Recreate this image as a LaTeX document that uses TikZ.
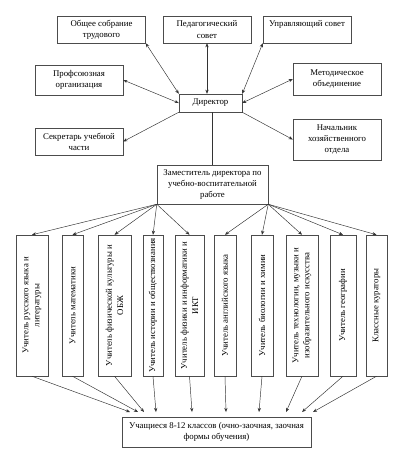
\documentclass[tikz,border=0pt]{standalone}
\usepackage{fontspec}
\setmainfont{Liberation Serif}
\usetikzlibrary{arrows.meta}
\begin{document}
\begin{tikzpicture}[x=.03cm, y=-.03cm, >={Stealth[length=3.5pt,width=2.8pt]}, font=\fontsize{7.5}{9.5}\selectfont,
    box/.style={draw=black!70, fill=white, align=center, inner sep=1pt},
    tbox/.style={box, rotate=90, minimum width=4.23cm},
    link/.style={draw=black!80, thin}]
\useasboundingbox (0,0) rectangle (412,465);
    \begin{scope}[every node/.append style={box, minimum width=2.64cm}]
\node[minimum height=.81cm] (sobr) at (101.5,29.5) {Общее собрание\\трудового};
\node[minimum height=.81cm] (ped) at (207,29.5) {Педагогический\\совет};
\node[minimum height=.81cm] (upr) at (307,29.5) {Управляющий совет\\\mbox{}};
\node[minimum height=.9cm] (prof) at (79,80) {Профсоюзная\\организация};
\node[minimum height=.96cm] (met) at (337,79) {Методическое\\объединение};
\node[minimum height=.81cm] (sek) at (79,141.5) {Секретарь учебной\\части};
\node[minimum height=1.23cm] (nach) at (337,139.5) {Начальник\\хозяйственного\\отдела};
\end{scope}
\node[box, minimum width=1.89cm, minimum height=.54cm] (dir) at (210.5,103) {Директор};
\node[box, minimum width=3.33cm, minimum height=1.17cm] (zam) at (212.5,184.5) {Заместитель директора по\\учебно-воспитательной\\работе};

\draw[link,<->](sobr.south east)--(dir.north west);
\draw[link,<->](ped.south)--(ped.south |- dir.north);
\draw[link,<->](upr.south west)--(dir.north east);
\draw[link,<->](prof.east)--(dir.west);
\draw[link,<->](met.west)--(dir.east);
\draw[link,->](dir.south west)--(sek.east);
\draw[link,->](dir.south east)--(nach.west);
\draw[link](zam.north |- dir.south)--(zam.north);

% teachers
\node[tbox, minimum height=.96cm] (t1) at (32,305.5) {Учитель русского языка и\\литературы};
\node[tbox, minimum height=.63cm] (t2) at (72.5,305.5) {Учитель математики};
\node[tbox, minimum height=.99cm] (t3) at (114.5,305.5) {Учитель физической культуры и\\ОБЖ};
\node[tbox, minimum height=.6cm] (t4) at (153,305.5) {Учитель истории и обществознания};
\node[tbox, minimum height=.87cm] (t5) at (189.5,305.5) {Учитель физики и информатики и\\ИКТ};
\node[tbox, minimum height=.66cm] (t6) at (225,305.5) {Учитель английского языка};
\node[tbox, minimum height=.66cm] (t7) at (262,305.5) {Учитель биологии и химии};
\node[tbox, minimum height=.96cm] (t8) at (302,305.5) {Учитель технологии, музыки и\\изобразительного искусства};
\node[tbox, minimum height=.78cm] (t9) at (343,305.5) {Учитель географии};
\node[tbox, minimum height=.63cm] (t10) at (376.5,305.5) {Классные кураторы};

\node[box, minimum width=5.67cm, minimum height=.9cm] (stud) at (216.5,432) {Учащиеся 8-12 классов (очно-заочная, заочная\\формы обучения)};

\foreach \i in {1,...,5}
    \draw[link,->](zam.south west)--(t\i.east);
\foreach \i in {6,...,10}
    \draw[link,->](zam.south east)--(t\i.east);
\foreach \i/\x in {1/130,2/138,3/144,4/156,5/192,6/226,7/259,8/286,9/302,10/313}{
    \coordinate (in\i) at (\x,412);
    \draw[link,->](t\i.west)--(in\i);
}
\end{tikzpicture}
\end{document}
